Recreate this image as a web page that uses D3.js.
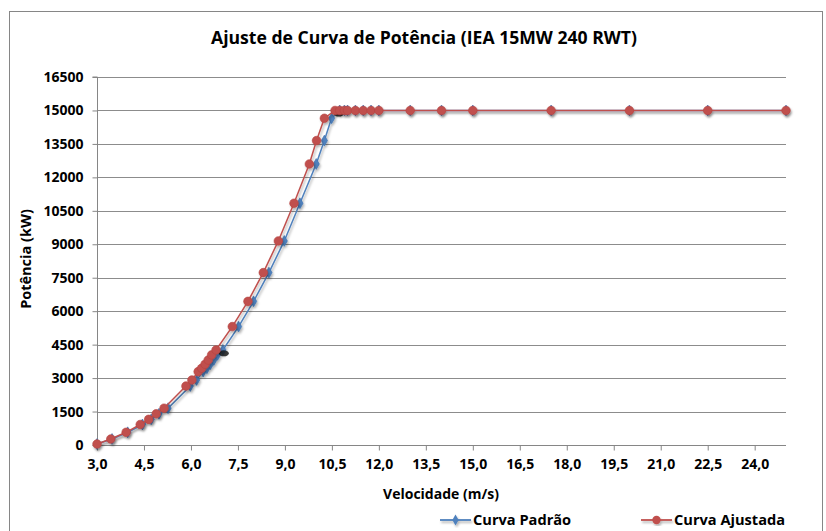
<!DOCTYPE html>
<html>
<head>
<meta charset="utf-8">
<script src="https://cdn.jsdelivr.net/npm/d3@7/dist/d3.min.js"></script>
<style>
  html, body { margin: 0; padding: 0; background: #fff; }
  svg { display: block; font-family: "Open Sans", "Noto Sans", sans-serif; }
</style>
</head>
<body>
<svg id="chart" width="826" height="531"></svg>
<script>
// Curva Padrão: velocidade (m/s) e potência (kW)
const padraoVel = [3.0, 3.48, 3.98, 4.45, 4.73, 4.98, 5.27, 5.98, 6.18, 6.39, 6.51, 6.62, 6.73, 6.85, 7.02,
  7.52, 8.00, 8.49, 8.98, 9.48, 10.00, 10.26, 10.49, 10.75, 10.9, 11.0, 11.25, 11.5, 11.75, 12.0,
  13.0, 14.0, 15.0, 17.5, 20.0, 22.5, 25.0];
const padraoPot = [45, 270, 570, 920, 1150, 1400, 1650, 2645, 2915, 3290, 3440, 3620, 3810, 4040, 4260,
  5310, 6440, 7730, 9150, 10840, 12600, 13650, 14650, 15000, 15000, 15000, 15000, 15000, 15000, 15000,
  15000, 15000, 15000, 15000, 15000, 15000, 15000];

// Curva Ajustada: velocidade (m/s) e potência (kW)
const ajustadaVel = [3.0, 3.44, 3.93, 4.38, 4.65, 4.89, 5.14, 5.84, 6.03, 6.23, 6.34, 6.45, 6.55, 6.66, 6.80,
  7.32, 7.82, 8.31, 8.79, 9.29, 9.78, 10.01, 10.26, 10.6, 10.75, 10.9, 11.0, 11.25, 11.5, 11.75, 12.0,
  13.0, 14.0, 15.0, 17.5, 20.0, 22.5, 25.0];
const ajustadaPot = [45, 270, 570, 920, 1150, 1400, 1650, 2645, 2915, 3290, 3440, 3620, 3810, 4040, 4260,
  5310, 6440, 7730, 9150, 10840, 12600, 13650, 14650, 15000, 15000, 15000, 15000, 15000, 15000, 15000, 15000,
  15000, 15000, 15000, 15000, 15000, 15000, 15000];

// Pontos escuros sobre a curva padrão
const destaqueVel = [7.05, 10.72];
const destaquePot = [4180, 14930];

const xTicks = [3.0, 4.5, 6.0, 7.5, 9.0, 10.5, 12.0, 13.5, 15.0, 16.5, 18.0, 19.5, 21.0, 22.5, 24.0];
const yTicks = [0, 1500, 3000, 4500, 6000, 7500, 9000, 10500, 12000, 13500, 15000, 16500];

const seriesNames = ["Curva Padrão", "Curva Ajustada"];
const colors = { padrao: "#4F81BD", ajustada: "#C0504D" };

const svg = d3.select("#chart");

const x = d3.scaleLinear().domain([3, 25]).range([97, 786]);
const y = d3.scaleLinear().domain([0, 16500]).range([445, 77]);

const fmtComma = v => d3.format(".1f")(v).replace(".", ",");

// Drop shadow for series
const defs = svg.append("defs");
const f = defs.append("filter").attr("id", "sombra").attr("x", "-10%").attr("y", "-10%")
  .attr("width", "130%").attr("height", "130%");
f.append("feDropShadow").attr("dx", 1.2).attr("dy", 2).attr("stdDeviation", 1.2)
  .attr("flood-color", "#000").attr("flood-opacity", 0.3);

// Chart frame
svg.append("rect").attr("x", 9.5).attr("y", 11.5).attr("width", 813).attr("height", 540)
  .attr("fill", "none").attr("stroke", "#868686").attr("stroke-width", 1);

// Title
svg.append("text").attr("x", 424).attr("y", 44).attr("text-anchor", "middle")
  .attr("font-size", 17.6).attr("font-weight", "bold").attr("fill", "#000")
  .text("Ajuste de Curva de Potência (IEA 15MW 240 RWT)");

// Horizontal gridlines
svg.append("g").selectAll("line").data(yTicks.filter(d => d > 0)).join("line")
  .attr("x1", x(3)).attr("x2", x(25))
  .attr("y1", d => Math.round(y(d)) + 0.5).attr("y2", d => Math.round(y(d)) + 0.5)
  .attr("stroke", "#8C8C8C").attr("stroke-width", 1);

// Axes
const yAxis = d3.axisLeft(y).tickValues(yTicks).tickSize(5).tickPadding(9).tickFormat(d3.format("d"));
const gy = svg.append("g").attr("transform", `translate(${x(3) + 0.5},0)`).call(yAxis);
const xAxis = d3.axisBottom(x).tickValues(xTicks).tickSize(5).tickPadding(9).tickFormat(fmtComma);
const gx = svg.append("g").attr("transform", `translate(0,${Math.round(y(0)) + 0.5})`).call(xAxis);

[gx, gy].forEach(g => {
  g.select(".domain").attr("stroke", "#868686");
  g.selectAll(".tick line").attr("stroke", "#868686");
  g.selectAll(".tick text").attr("font-size", 14).attr("font-weight", "bold")
    .attr("fill", "#000").attr("font-family", "Open Sans, Noto Sans, sans-serif");
});
gy.select(".domain").attr("d", `M-5,${y(16500)}H0V${y(0)}`);
gx.select(".domain").attr("d", `M${x(3)},0H${x(25)}`);

// Axis titles
svg.append("text").attr("x", 441).attr("y", 499).attr("text-anchor", "middle")
  .attr("font-size", 14).attr("font-weight", "bold").text("Velocidade (m/s)");
svg.append("text").attr("transform", "translate(31,259) rotate(-90)").attr("text-anchor", "middle")
  .attr("font-size", 14.5).attr("font-weight", "bold").text("Potência (kW)");

// Series
const padrao = padraoVel.map((v, i) => [v, padraoPot[i]]);
const ajustada = ajustadaVel.map((v, i) => [v, ajustadaPot[i]]);
const line = d3.line().x(d => x(d[0])).y(d => y(d[1]));

const gPad = svg.append("g").attr("filter", "url(#sombra)");
gPad.append("path").datum(padrao).attr("d", line).attr("fill", "none")
  .attr("stroke", colors.padrao).attr("stroke-width", 1.5);
const diamond = d3.symbol().type(d3.symbolDiamond).size(34);
gPad.selectAll("path.m").data(padrao).join("path").attr("class", "m")
  .attr("transform", d => `translate(${x(d[0])},${y(d[1])})`)
  .attr("d", diamond).attr("fill", colors.padrao).attr("stroke", "#3A6FAE").attr("stroke-width", 0.6);

svg.append("g").selectAll("ellipse").data(destaqueVel.map((v, i) => [v, destaquePot[i]])).join("ellipse")
  .attr("cx", d => x(d[0])).attr("cy", d => y(d[1]) + 1.5).attr("rx", 5).attr("ry", 3)
  .attr("fill", "#1a1a1a").attr("opacity", 0.85);

const gAj = svg.append("g").attr("filter", "url(#sombra)");
gAj.append("path").datum(ajustada).attr("d", line).attr("fill", "none")
  .attr("stroke", colors.ajustada).attr("stroke-width", 1.5);
gAj.selectAll("circle").data(ajustada).join("circle")
  .attr("cx", d => x(d[0])).attr("cy", d => y(d[1])).attr("r", 4.3)
  .attr("fill", colors.ajustada).attr("stroke", "#B5423F").attr("stroke-width", 0.6);

// Legend
const legend = [
  { name: seriesNames[0], color: colors.padrao, x0: 440, type: "diamond" },
  { name: seriesNames[1], color: colors.ajustada, x0: 641, type: "circle" }
];
const lg = svg.append("g");
legend.forEach(it => {
  const g = lg.append("g").attr("filter", "url(#sombra)");
  g.append("line").attr("x1", it.x0).attr("x2", it.x0 + 31).attr("y1", 520).attr("y2", 520)
    .attr("stroke", it.color).attr("stroke-width", 1.8);
  if (it.type === "diamond") {
    g.append("path").attr("transform", `translate(${it.x0 + 15.5},520)`).attr("d", diamond).attr("fill", it.color);
  } else {
    g.append("circle").attr("cx", it.x0 + 15.5).attr("cy", 520).attr("r", 4.2).attr("fill", it.color);
  }
  lg.append("text").attr("x", it.x0 + 33).attr("y", 525).attr("font-size", 14.6)
    .attr("font-weight", "bold").attr("fill", "#000").text(it.name);
});
</script>
</body>
</html>
